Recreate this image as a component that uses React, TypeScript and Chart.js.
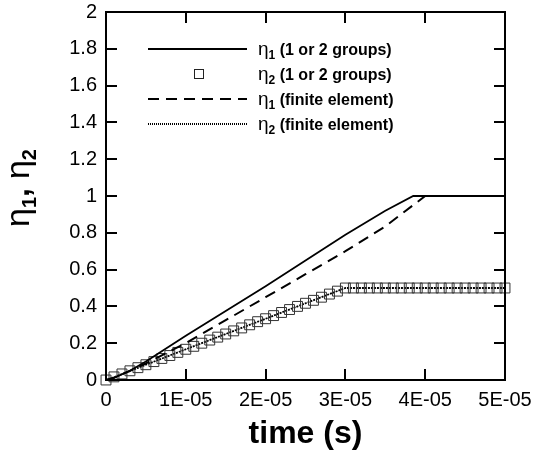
import React, { useEffect, useRef } from 'react';
import { Chart, registerables } from 'chart.js';

Chart.register(...registerables);

// ---- data ----
const X_TICKS = [0, 1e-5, 2e-5, 3e-5, 4e-5, 5e-5];
const X_TICK_LABELS = ['0', '1E-05', '2E-05', '3E-05', '4E-05', '5E-05'];
const Y_TICKS = [0, 0.2, 0.4, 0.6, 0.8, 1, 1.2, 1.4, 1.6, 1.8, 2];
const Y_TICK_LABELS = ['0', '0.2', '0.4', '0.6', '0.8', '1', '1.2', '1.4', '1.6', '1.8', '2'];

// eta1 (1 or 2 groups) - solid line
const T_ETA1_GROUPS = [0, 1e-6, 3e-6, 5e-6, 1e-5, 1.5e-5, 2e-5, 2.5e-5, 3e-5, 3.5e-5, 3.85e-5, 4e-5, 4.5e-5, 5e-5];
const ETA1_GROUPS = [0, 0.012, 0.05, 0.1, 0.24, 0.375, 0.51, 0.65, 0.79, 0.92, 1.0, 1.0, 1.0, 1.0];

// eta2 (1 or 2 groups) - square markers
const T_ETA2_GROUPS = [
  0, 1e-6, 2e-6, 3e-6, 4e-6, 5e-6, 6e-6, 7e-6, 8e-6, 9e-6,
  1e-5, 1.1e-5, 1.2e-5, 1.3e-5, 1.4e-5, 1.5e-5, 1.6e-5, 1.7e-5, 1.8e-5, 1.9e-5,
  2e-5, 2.1e-5, 2.2e-5, 2.3e-5, 2.4e-5, 2.5e-5, 2.6e-5, 2.7e-5, 2.8e-5, 2.9e-5,
  3e-5, 3.1e-5, 3.2e-5, 3.3e-5, 3.4e-5, 3.5e-5, 3.6e-5, 3.7e-5, 3.8e-5, 3.9e-5,
  4e-5, 4.1e-5, 4.2e-5, 4.3e-5, 4.4e-5, 4.5e-5, 4.6e-5, 4.7e-5, 4.8e-5, 4.9e-5,
  5e-5,
];
const ETA2_GROUPS = [
  0, 0.017, 0.033, 0.05, 0.067, 0.083, 0.1, 0.117, 0.133, 0.15,
  0.167, 0.183, 0.2, 0.217, 0.233, 0.25, 0.267, 0.283, 0.3, 0.317,
  0.333, 0.35, 0.367, 0.383, 0.4, 0.417, 0.433, 0.45, 0.467, 0.483,
  0.5, 0.5, 0.5, 0.5, 0.5, 0.5, 0.5, 0.5, 0.5, 0.5,
  0.5, 0.5, 0.5, 0.5, 0.5, 0.5, 0.5, 0.5, 0.5, 0.5,
  0.5,
];

// eta1 (finite element) - dashed
const T_ETA1_FE = [0, 1e-6, 3e-6, 5e-6, 1e-5, 1.5e-5, 2e-5, 2.5e-5, 3e-5, 3.5e-5, 4e-5, 4.5e-5, 5e-5];
const ETA1_FE = [0, 0.012, 0.05, 0.09, 0.2, 0.325, 0.45, 0.575, 0.7, 0.835, 1.0, 1.0, 1.0];

// eta2 (finite element) - fine dotted line
const T_ETA2_FE = [0, 1e-6, 5e-6, 1e-5, 1.5e-5, 2e-5, 2.5e-5, 3e-5, 4e-5, 5e-5];
const ETA2_FE = [0, 0.015, 0.083, 0.167, 0.25, 0.333, 0.417, 0.5, 0.5, 0.5];

const LEGEND_ITEMS = [
  { sub: '1', label: ' (1 or 2 groups)', kind: 'solid' },
  { sub: '2', label: ' (1 or 2 groups)', kind: 'square' },
  { sub: '1', label: ' (finite element)', kind: 'dashed' },
  { sub: '2', label: ' (finite element)', kind: 'dotted' },
];

const FONT = '"Liberation Sans", Arial, sans-serif';

const pts = (xs: number[], ys: number[]) => xs.map((x, i) => ({ x, y: ys[i] }));

const zeroPad = (s: any) => {
  s.paddingLeft = 0;
  s.paddingRight = 0;
  s.paddingTop = 0;
  s.paddingBottom = 0;
};

const decorPlugin = {
  id: 'decor',
  afterDraw(chart: any) {
    const ctx = chart.ctx as CanvasRenderingContext2D;
    const { left, right, top, bottom } = chart.chartArea;
    const xs = chart.scales.x;
    const ys = chart.scales.y;
    ctx.save();
    ctx.strokeStyle = '#000';
    ctx.lineWidth = 2;
    ctx.lineCap = 'butt';
    // frame
    ctx.strokeRect(left, top, right - left, bottom - top);
    // inward ticks
    const TL = 11;
    ctx.beginPath();
    X_TICKS.forEach((v) => {
      const px = Math.round(xs.getPixelForValue(v));
      ctx.moveTo(px, bottom);
      ctx.lineTo(px, bottom - TL);
      ctx.moveTo(px, top);
      ctx.lineTo(px, top + TL);
    });
    Y_TICKS.forEach((v) => {
      const py = Math.round(ys.getPixelForValue(v));
      ctx.moveTo(left, py);
      ctx.lineTo(left + TL, py);
      ctx.moveTo(right, py);
      ctx.lineTo(right - TL, py);
    });
    ctx.stroke();

    // legend
    const rowY = [49, 74, 99, 124];
    const x0 = 148, x1 = 247, tx = 258;
    LEGEND_ITEMS.forEach((it, i) => {
      const y = rowY[i];
      ctx.save();
      ctx.strokeStyle = '#000';
      if (it.kind === 'solid') {
        ctx.lineWidth = 2;
        ctx.setLineDash([]);
        ctx.beginPath(); ctx.moveTo(x0, y); ctx.lineTo(x1, y); ctx.stroke();
      } else if (it.kind === 'dashed') {
        ctx.lineWidth = 2;
        ctx.setLineDash([11, 7]);
        ctx.beginPath(); ctx.moveTo(x0, y); ctx.lineTo(x1, y); ctx.stroke();
      } else if (it.kind === 'dotted') {
        ctx.lineWidth = 2;
        ctx.setLineDash([1, 1]);
        ctx.beginPath(); ctx.moveTo(x0, y); ctx.lineTo(x1, y); ctx.stroke();
      } else {
        ctx.lineWidth = 1;
        ctx.strokeStyle = '#222';
        ctx.strokeRect(194.5, y - 4.5, 9, 9);
      }
      ctx.restore();
      // text
      ctx.fillStyle = '#000';
      ctx.textBaseline = 'alphabetic';
      ctx.textAlign = 'left';
      const base = y + 6;
      let cx = tx;
      ctx.font = `19px ${FONT}`;
      ctx.fillText('η', cx, base);
      cx += ctx.measureText('η').width;
      ctx.font = `bold 12px ${FONT}`;
      ctx.fillText(it.sub, cx, base + 4);
      cx += ctx.measureText(it.sub).width;
      ctx.font = `bold 16px ${FONT}`;
      ctx.fillText(it.label, cx, base);
    });

    // y-axis title: eta1, eta2 (rotated)
    ctx.save();
    ctx.translate(29, 188);
    ctx.rotate(-Math.PI / 2);
    ctx.fillStyle = '#000';
    ctx.textBaseline = 'alphabetic';
    ctx.textAlign = 'left';
    const big = `34px ${FONT}`;
    const small = `bold 20px ${FONT}`;
    const comma = `bold 32px ${FONT}`;
    const parts: [string, string, number][] = [
      ['η', big, 0], ['1', small, 7], [', ', comma, 0], ['η', big, 0], ['2', small, 7],
    ];
    let total = 0;
    parts.forEach(([t, f]) => { ctx.font = f; total += ctx.measureText(t).width; });
    let px = -total / 2;
    parts.forEach(([t, f, dy]) => {
      ctx.font = f;
      ctx.fillText(t, px, dy);
      px += ctx.measureText(t).width;
    });
    ctx.restore();

    ctx.restore();
  },
};

export default function App() {
  const ref = useRef<HTMLCanvasElement>(null);
  useEffect(() => {
    if (!ref.current) return;
    const chart = new Chart(ref.current, {
      type: 'line',
      data: {
        datasets: [
          {
            label: 'η1 (1 or 2 groups)',
            data: pts(T_ETA1_GROUPS, ETA1_GROUPS),
            borderColor: '#000',
            borderWidth: 1.8,
            pointRadius: 0,
            tension: 0,
            clip: false as any,
          },
          {
            label: 'η1 (finite element)',
            data: pts(T_ETA1_FE, ETA1_FE),
            borderColor: '#000',
            borderWidth: 2,
            borderDash: [11, 7],
            pointRadius: 0,
            tension: 0,
          },
          {
            label: 'η2 (1 or 2 groups)',
            data: pts(T_ETA2_GROUPS, ETA2_GROUPS),
            showLine: false,
            borderColor: '#222',
            backgroundColor: 'rgba(0,0,0,0)',
            pointStyle: 'rect',
            pointRadius: 7,
            pointBorderWidth: 1,
            pointBorderColor: '#333',
            pointBackgroundColor: 'rgba(0,0,0,0)',
            clip: false as any,
          },
          {
            label: 'η2 (finite element)',
            data: pts(T_ETA2_FE, ETA2_FE),
            borderColor: '#000',
            borderWidth: 1.8,
            borderDash: [2, 1],
            pointRadius: 0,
            tension: 0,
          },
        ],
      },
      options: {
        responsive: false,
        devicePixelRatio: 1,
        animation: false,
        layout: { padding: { top: 12, right: 31, left: 0, bottom: 0 } },
        plugins: {
          legend: { display: false },
          tooltip: { enabled: false },
        },
        scales: {
          x: {
            type: 'linear',
            min: 0,
            max: 5e-5,
            afterBuildTicks: (s: any) => { s.ticks = X_TICKS.map((v) => ({ value: v })); },
            afterFit: (s: any) => { s.height = 77; zeroPad(s); },
            ticks: {
              autoSkip: false,
              maxRotation: 0,
              padding: 8,
              color: '#000',
              font: { size: 20, family: FONT },
              callback: (_v: any, i: number) => X_TICK_LABELS[i],
            },
            grid: { display: false, drawTicks: false },
            border: { display: false },
            title: {
              display: true,
              text: 'time (s)',
              color: '#000',
              font: { size: 32, weight: 'bold', family: FONT },
              padding: { top: 0, bottom: 4 },
            },
          },
          y: {
            type: 'linear',
            min: 0,
            max: 2,
            afterBuildTicks: (s: any) => { s.ticks = Y_TICKS.map((v) => ({ value: v })); },
            afterFit: (s: any) => { s.width = 106; zeroPad(s); },
            ticks: {
              autoSkip: false,
              padding: 9,
              color: '#000',
              font: { size: 20, family: FONT },
              callback: (_v: any, i: number) => Y_TICK_LABELS[i],
            },
            grid: { display: false, drawTicks: false },
            border: { display: false },
          },
        },
      } as any,
      plugins: [decorPlugin],
    });
    return () => chart.destroy();
  }, []);
  return (
    <div style={{ position: 'fixed', left: 0, top: 0, width: 536, height: 457, background: '#fff' }}>
      <canvas ref={ref} width={536} height={457} style={{ width: 536, height: 457, display: 'block' }} />
    </div>
  );
}
